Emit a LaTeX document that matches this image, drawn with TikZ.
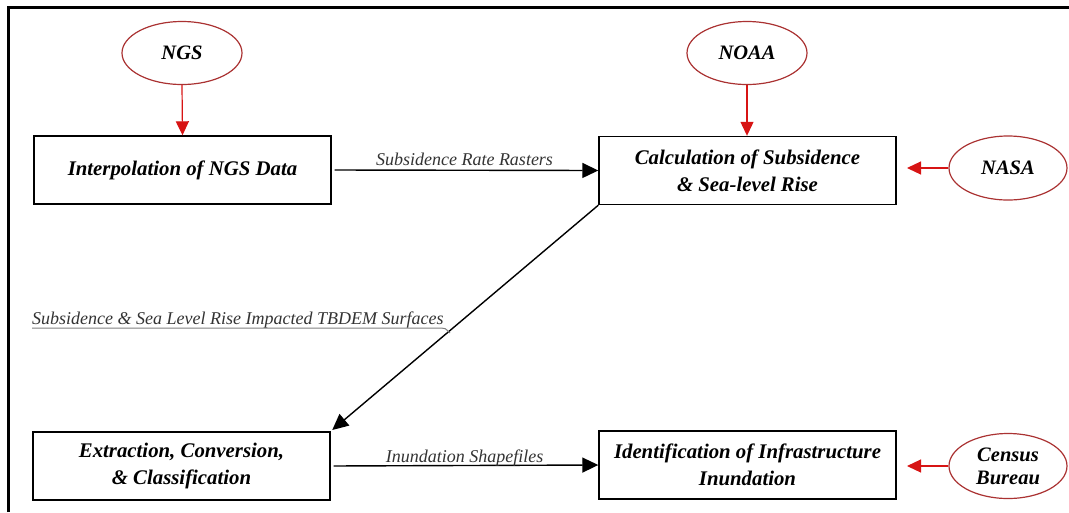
\documentclass[tikz,border=0pt]{standalone}
\usepackage{fontspec}
\setmainfont{Liberation Serif}
\usetikzlibrary{arrows.meta,shapes.geometric}
\definecolor{ellred}{RGB}{170,50,50}
\definecolor{arrred}{RGB}{215,20,20}
\tikzset{
  procbox/.style={draw=black, line width=1.4pt, minimum width=297pt, minimum height=68pt, inner sep=0pt, align=center, font=\fontsize{20.8}{27}\selectfont\bfseries\itshape},
  source/.style={draw=ellred, line width=1.2pt, ellipse, inner sep=0pt, align=center, font=\fontsize{20.5}{26}\selectfont\bfseries\itshape},
  redarrow/.style={draw=arrred, line width=1.2pt, -{Triangle[length=14pt,width=13pt]}},
  blackarrow/.style={draw=black, line width=1.4pt, -{Triangle[length=16pt,width=15pt]}},
  flowlabel/.style={inner sep=0pt, font=\fontsize{18}{21}\selectfont\itshape, text=black!80},
}
\begin{document}
\begin{tikzpicture}[x=1pt,y=-1pt]
\useasboundingbox (0,0) rectangle (1069,512);
% frame
\draw[line width=3pt] (8,512) -- (8,7) -- (1069,7);
% process boxes
\node[procbox] (interp) at (182.5,170) {Interpolation of NGS Data};
\node[procbox] (calc) at (747.5,170.5) {Calculation of Subsidence\\ \& Sea-level Rise};
\node[procbox] (extract) at (181.5,466) {Extraction, Conversion,\\ \& Classification};
\node[procbox] (ident) at (747.5,465) {Identification of Infrastructure\\ Inundation};
% sources
\node[source, minimum width=120pt, minimum height=63pt] (ngs) at (182,53) {NGS};
\node[source, minimum width=120pt, minimum height=63pt] (noaa) at (747,53) {NOAA};
\node[source, minimum width=118pt, minimum height=64pt] (nasa) at (1008,168) {NASA};
\node[source, minimum width=118pt, minimum height=65pt] (census) at (1008,466) {Census\\[-3pt]Bureau};
\coordinate (nasaend) at (907,168);
\coordinate (censusend) at (907,466);
% red arrows
\draw[redarrow] (ngs.south) -- (interp.north);
\draw[redarrow] (noaa.south) -- (calc.north -| noaa.south);
\draw[redarrow] (nasa.west) -- (nasaend);
\draw[redarrow] (census.west) -- (censusend);
% black arrows
\draw[blackarrow, shorten <=3pt] (interp.east) -- (calc.west);
\draw[blackarrow, shorten <=3pt] (extract.east) -- (ident.west);
\draw[blackarrow, shorten >=2pt] (calc.south west) -- (extract.north east);
% labels
\node[flowlabel, anchor=base] (lab1) at (464.5,165) {Subsidence Rate Rasters};
\node[flowlabel, anchor=base] (lab3) at (464.5,462) {Inundation Shapefiles};
\node[flowlabel, anchor=base west] (lab2) at (32,324) {Subsidence \& Sea Level Rise Impacted TBDEM Surfaces};
\coordinate (hook) at (450,333);
\draw[gray, line width=1pt] (32,328) -- (441,328) .. controls (445,328) .. (hook);
\end{tikzpicture}
\end{document}
